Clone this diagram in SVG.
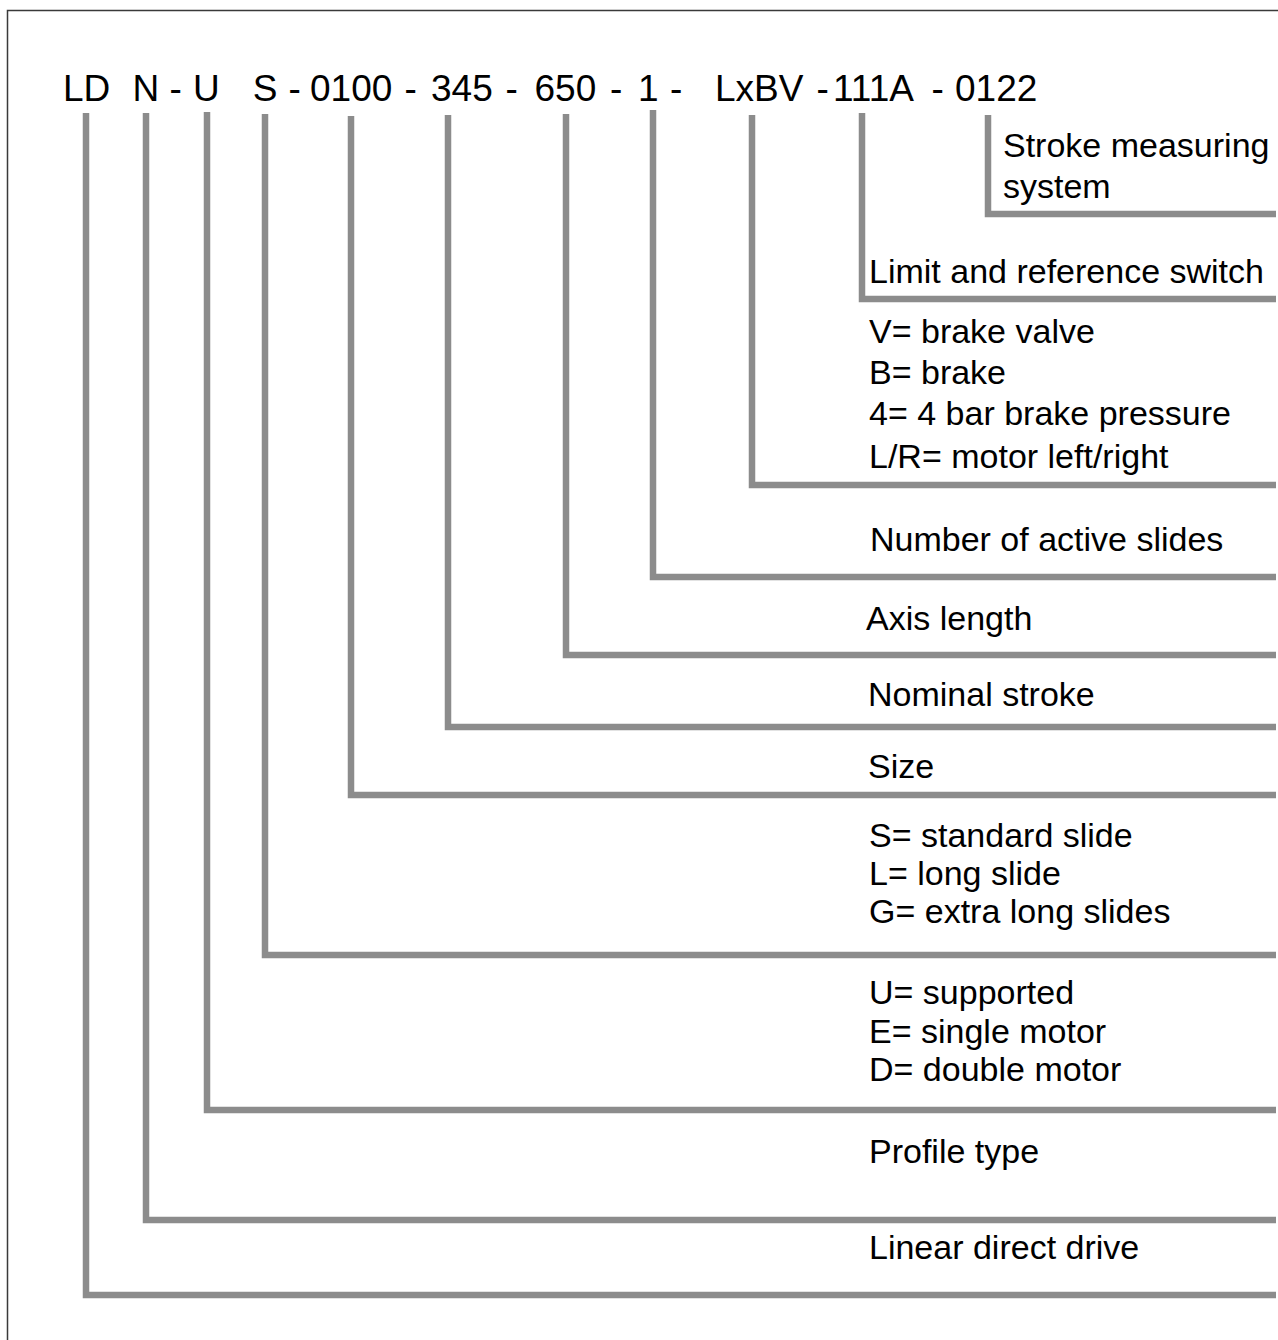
<svg xmlns="http://www.w3.org/2000/svg" width="1278" height="1340" viewBox="0 0 1278 1340">
<style>
.code{font-family:"Liberation Sans",Arial,sans-serif;font-size:37px;fill:#000}
.lbl{font-family:"Liberation Sans",Arial,sans-serif;font-size:34px;fill:#000}
.conn{fill:none;stroke:#8c8c8c;stroke-width:6.5;stroke-linejoin:miter;stroke-linecap:butt}
</style>
<rect x="7.5" y="10.5" width="1300" height="1360" fill="#fff" stroke="#3a3a3a" stroke-width="1.5"/>
<g id="code">
<text class="code" y="100.5"><tspan x="63">LD</tspan><tspan x="132.6">N</tspan><tspan x="169.5">-</tspan><tspan x="193">U</tspan><tspan x="252.8">S</tspan><tspan x="288.5">-</tspan><tspan x="310">0100</tspan><tspan x="404.5">-</tspan><tspan x="431">345</tspan><tspan x="505.5">-</tspan><tspan x="534.5">650</tspan><tspan x="610">-</tspan><tspan x="638">1</tspan><tspan x="670">-</tspan><tspan x="715">LxBV</tspan><tspan x="816.5">-</tspan><tspan x="833">111A</tspan><tspan x="931.5">-</tspan><tspan x="955">0122</tspan></text>
</g>
<g id="connectors">
<polyline class="conn" points="988,115 988,214 1276,214"/>
<polyline class="conn" points="862,113 862,299 1276,299"/>
<polyline class="conn" points="752,115 752,485 1276,485"/>
<polyline class="conn" points="653,110 653,577 1276,577"/>
<polyline class="conn" points="566,114 566,655 1276,655"/>
<polyline class="conn" points="448,115 448,727 1276,727"/>
<polyline class="conn" points="351,116 351,795 1276,795"/>
<polyline class="conn" points="265,114 265,955 1276,955"/>
<polyline class="conn" points="207,112 207,1110 1276,1110"/>
<polyline class="conn" points="146,113 146,1220 1276,1220"/>
<polyline class="conn" points="86,113 86,1295 1276,1295"/>
</g>
<g id="stroke-measuring"><text class="lbl" x="1003" y="157">Stroke measuring</text><text class="lbl" x="1003" y="198">system</text></g>
<g id="limit-switch"><text class="lbl" x="869" y="283">Limit and reference switch</text></g>
<g id="brake-options">
<text class="lbl" x="869" y="343">V= brake valve</text>
<text class="lbl" x="869" y="384">B= brake</text>
<text class="lbl" x="869" y="425">4= 4 bar brake pressure</text>
<text class="lbl" x="869" y="468">L/R= motor left/right</text>
</g>
<g id="active-slides"><text class="lbl" x="870" y="551">Number of active slides</text></g>
<g id="axis-length"><text class="lbl" x="866" y="630">Axis length</text></g>
<g id="nominal-stroke"><text class="lbl" x="868" y="706">Nominal stroke</text></g>
<g id="size"><text class="lbl" x="868" y="778">Size</text></g>
<g id="slide-type">
<text class="lbl" x="869" y="847">S= standard slide</text>
<text class="lbl" x="869" y="885">L= long slide</text>
<text class="lbl" x="869" y="923">G= extra long slides</text>
</g>
<g id="motor-type">
<text class="lbl" x="869" y="1004">U= supported</text>
<text class="lbl" x="869" y="1043">E= single motor</text>
<text class="lbl" x="869" y="1081">D= double motor</text>
</g>
<g id="profile-type"><text class="lbl" x="869" y="1163">Profile type</text></g>
<g id="linear-drive"><text class="lbl" x="869" y="1259">Linear direct drive</text></g>
</svg>
